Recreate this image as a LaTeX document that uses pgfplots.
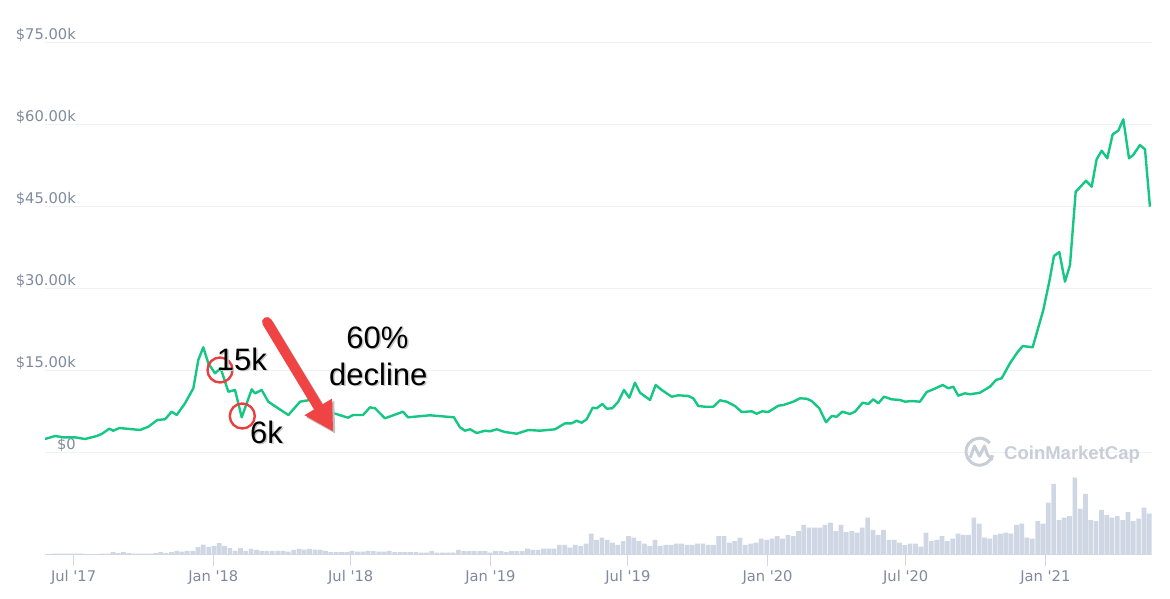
\documentclass[border=0pt]{standalone}
\usepackage{pgfplots}
\pgfplotsset{compat=1.18}
\usepackage{pgfplotstable}
\usepackage{fontspec}
\usetikzlibrary{arrows.meta}
\newfontfamily\lblfont{DejaVu Sans}
\newfontfamily\annot{Liberation Sans}
\definecolor{cmcgreen}{RGB}{22,199,132}
\definecolor{lbl}{RGB}{128,138,157}
\definecolor{gridc}{RGB}{239,242,245}
\definecolor{vol}{RGB}{207,214,228}
\definecolor{ared}{RGB}{240,68,68}
\definecolor{cred}{RGB}{232,64,64}
\definecolor{wm}{RGB}{200,206,216}

% price: x = days since 1 Jul 2017, y = price in thousands of USD
\pgfplotstableread{
d p
-37.7 2.43
-24.5 2.98
-13.6 2.74
1.8 2.74
15.0 2.43
30.4 2.98
37.0 3.35
47.0 4.32
52.3 3.95
60.2 4.44
74.3 4.26
87.5 4.08
98.4 4.68
110.2 5.91
120.4 6.04
129.2 7.43
135.8 6.82
146.7 8.96
157.7 11.71
164.2 16.88
170.8 19.21
177.4 16.28
186.2 14.45
193.7 15.37
203.8 11.08
212.6 11.40
221.4 6.40
234.6 11.52
238.9 10.79
247.7 11.40
256.4 9.26
282.8 6.82
298.2 9.26
311.4 9.57
341.7 7.19
361.4 6.33
368.0 6.82
381.2 6.82
390.4 8.23
397.0 8.05
410.1 6.22
433.9 7.43
440.4 6.40
469.4 6.77
491.4 6.51
501.0 6.40
508.9 4.57
515.5 3.95
522.1 4.21
530.9 3.53
541.9 3.95
548.4 3.84
557.3 4.21
568.2 3.71
583.6 3.40
598.9 4.08
614.3 3.95
634.1 4.21
647.2 5.30
656.0 5.30
662.6 5.78
669.2 5.41
675.8 6.04
683.7 8.16
689.0 8.05
696.4 8.84
702.2 7.98
709.5 8.05
717.4 9.26
724.9 11.40
731.9 9.99
739.4 12.73
746.0 10.90
759.2 9.57
766.7 12.31
774.6 11.40
787.8 10.17
796.5 10.43
809.6 10.30
816.2 9.88
822.8 8.47
831.6 8.34
842.6 8.34
851.4 9.51
860.2 9.26
871.1 8.47
880.0 7.37
893.1 7.50
899.7 7.06
907.1 7.50
915.0 7.37
928.2 8.52
934.8 8.65
947.9 9.26
956.7 9.88
965.6 9.80
972.2 9.38
982.2 8.05
991.0 5.49
998.5 6.64
1005.1 6.51
1012.5 7.43
1022.6 7.01
1029.2 7.43
1039.3 9.07
1046.7 8.84
1053.3 9.69
1059.9 8.96
1067.4 10.17
1077.5 9.69
1088.5 9.57
1095.0 9.26
1103.9 9.38
1114.8 9.26
1123.6 11.03
1132.3 11.52
1144.7 12.31
1152.1 11.71
1158.6 12.00
1165.2 10.35
1174.1 10.79
1180.7 10.61
1193.8 10.90
1207.0 12.00
1214.9 13.23
1222.4 13.54
1233.3 16.28
1242.2 18.11
1250.0 19.44
1263.2 19.21
1277.2 26.03
1285.1 31.21
1291.3 35.91
1298.3 36.64
1305.8 31.21
1312.4 34.26
1319.9 47.67
1325.5 48.47
1333.4 49.68
1340.9 48.58
1347.5 53.60
1354.1 55.17
1361.5 53.78
1368.6 58.17
1376.0 58.83
1382.6 60.91
1390.1 53.78
1395.7 54.38
1404.5 56.21
1411.2 55.42
1417.7 44.93
}\pricetable

% weekly volume (relative units), one row per week
\pgfplotstableread[row sep=\\]{
v\\
0.5\\1\\1\\1\\1\\1\\1\\0.3\\0.2\\0.3\\1\\1\\2.3\\1.3\\2.3\\1.3\\1\\1\\1\\1\\
1.3\\2.3\\1.3\\2.3\\3.7\\3\\3.7\\3.7\\7.3\\10\\7.7\\8.7\\11.3\\8.7\\6.3\\3.7\\6.3\\3.7\\
5.7\\4.7\\3.7\\3.7\\3.7\\3.7\\3.7\\3\\4.7\\5.7\\5\\5.7\\5\\4.7\\3.7\\2.3\\2.3\\2.3\\2.3\\
3.7\\3\\3\\3.7\\3.3\\3\\3\\3.7\\2.3\\2.3\\2.3\\2.3\\2.3\\
2\\2\\3.3\\2\\2\\2\\2\\4.7\\3.3\\3.3\\3.3\\3.3\\3.3\\2\\3.3\\3.3\\2.3\\3.3\\3.3\\3.3\\
6\\4.7\\4.7\\6\\6\\6\\9.7\\9.7\\7\\9.7\\8.3\\11\\21\\14.7\\17\\14.7\\12\\9.7\\13.3\\18.3\\
17\\13.3\\11\\8.3\\14.7\\8.3\\9.7\\9.7\\11\\11\\9.7\\9.7\\11\\11\\9.7\\9.7\\18.3\\18.3\\12\\13.3\\
17\\9.7\\11\\12\\16\\14.7\\16\\18.3\\16\\19.7\\
18.3\\23.3\\29.7\\27\\27\\27\\29.7\\32\\23.3\\29.7\\22.3\\23.3\\22\\27\\37\\24.7\\19.7\\24.7\\14.7\\14.7\\
12\\9.3\\11\\11\\8\\22\\13.3\\14.7\\18.3\\13.3\\16\\21\\19.7\\19.7\\37\\31\\17\\16\\19.7\\21\\
22\\21\\29.7\\31\\17\\16\\33.3\\31\\52\\70.7\\34.3\\37\\38.3\\77\\45.7\\60.7\\34.3\\33.3\\44.7\\39.7\\
37\\38.3\\34.3\\42.3\\33.3\\36\\47\\41\\
}\voltable

\begin{document}
\begin{tikzpicture}[x=1pt,y=1pt]
\path[use as bounding box, fill=white] (0,0) rectangle (1170,598);

% ---- volume axis ----
\begin{axis}[
  at={(45pt,43.5pt)}, anchor=south west, scale only axis,
  width=1107pt, height=100pt,
  xmin=-37.7, xmax=1420.4, ymin=0, ymax=100,
  axis x line*=bottom, axis y line=none,
  x axis line style={draw=vol, line width=1.2pt, -},
  xtick={0,184,365,549,730,914,1096,1280},
  xticklabels={Jul '17,Jan '18,Jul '18,Jan '19,Jul '19,Jan '20,Jul '20,Jan '21},
  tick align=outside, major tick length=11pt,
  xtick style={draw=vol, line width=1.2pt},
  xticklabel style={font=\lblfont\fontsize{14.7}{17}\selectfont, text=lbl,
     anchor=base, inner sep=0pt, yshift=-15.5pt},
]
\addplot[ybar, fill=vol, draw=none, bar width=6.2]
  table[x expr=\coordindex*7-32.2, y=v] {\voltable};
\end{axis}

% ---- price axis ----
\begin{axis}[
  at={(45pt,145.7pt)}, anchor=south west, scale only axis,
  width=1107pt, height=410pt,
  xmin=-37.7, xmax=1420.4, ymin=0, ymax=75,
  xtick=\empty,
  ytick={0,15,30,45,60,75},
  yticklabels={\$0,\$15.00k,\$30.00k,\$45.00k,\$60.00k,\$75.00k},
  ymajorgrids, grid style={draw=gridc, line width=1.2pt},
  axis line style={draw=none}, major tick length=0pt,
  yticklabel style={font=\lblfont\fontsize{14.7}{17}\selectfont, text=lbl,
     anchor=base east, inner sep=0pt, xshift=31pt, yshift=2.5pt},
]
\addplot[cmcgreen, line width=2.4pt, line join=round] table[x=d, y=p] {\pricetable};
\end{axis}

% ---- watermark ----
\draw[wm, line width=3pt] (979.5,146.3) ++(-15:13.5) arc[start angle=-15, end angle=-320, radius=13.5];
\draw[wm, line width=3pt, line join=round, line cap=round]
  (970.5,141) -- (974.5,152) -- (979.5,142) -- (984.5,152) -- (987.5,143) -- (992,139);
\node[wm, anchor=base west, inner sep=0pt, font=\annot\bfseries\fontsize{18.5}{20}\selectfont] at (1004,138.5) {CoinMarketCap};

% ---- annotations ----
\draw[black!25, line width=10pt, line cap=round, -{Triangle[length=29pt 0, width=30pt 0]}] (269,273.5) -- (335.5,164);
\draw[ared, line width=10pt, line cap=round, -{Triangle[length=29pt 0, width=30pt 0]}] (267,276) -- (333.3,166.3);
\draw[cred, line width=2.4pt] (220,228) circle[radius=12.5];
\draw[cred, line width=2.4pt] (242.3,182) circle[radius=12.5];
\begin{scope}[font=\annot\fontsize{31}{34}\selectfont]
\node[black!22, anchor=base west, inner sep=0pt] at (218.2,226.5) {15k};
\node[black, anchor=base west, inner sep=0pt] at (216.7,228) {15k};
\node[black!22, anchor=base west, inner sep=0pt] at (251.5,153.2) {6k};
\node[black, anchor=base west, inner sep=0pt] at (250,154.7) {6k};
\node[black!22, anchor=base, inner sep=0pt] at (379,248.2) {60\%};
\node[black, anchor=base, inner sep=0pt] at (377.5,249.7) {60\%};
\node[black!22, anchor=base, inner sep=0pt] at (379.8,211.5) {decline};
\node[black, anchor=base, inner sep=0pt] at (378.3,213) {decline};
\end{scope}
\end{tikzpicture}
\end{document}
